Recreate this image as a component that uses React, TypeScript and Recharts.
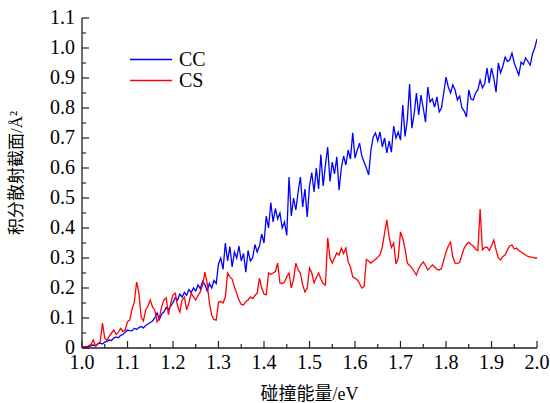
import { LineChart, Line, XAxis, YAxis, Legend } from "recharts";

// collision energy (eV)
const energy = [
  1.0, 1.005, 1.01, 1.015, 1.02, 1.025, 1.03, 1.035, 1.04, 1.045,
  1.05, 1.055, 1.06, 1.065, 1.07, 1.075, 1.08, 1.085, 1.09, 1.095,
  1.1, 1.105, 1.11, 1.115, 1.12, 1.125, 1.13, 1.135, 1.14, 1.145,
  1.15, 1.155, 1.16, 1.165, 1.17, 1.175, 1.18, 1.185, 1.19, 1.195,
  1.2, 1.205, 1.21, 1.215, 1.22, 1.225, 1.23, 1.235, 1.24, 1.245,
  1.25, 1.255, 1.26, 1.265, 1.27, 1.275, 1.28, 1.285, 1.29, 1.295,
  1.3, 1.305, 1.31, 1.315, 1.32, 1.325, 1.33, 1.335, 1.34, 1.345,
  1.35, 1.355, 1.36, 1.365, 1.37, 1.375, 1.38, 1.385, 1.39, 1.395,
  1.4, 1.405, 1.41, 1.415, 1.42, 1.425, 1.43, 1.435, 1.44, 1.445,
  1.45, 1.455, 1.46, 1.465, 1.47, 1.475, 1.48, 1.485, 1.49, 1.495,
  1.5, 1.505, 1.51, 1.515, 1.52, 1.525, 1.53, 1.535, 1.54, 1.545,
  1.55, 1.555, 1.56, 1.565, 1.57, 1.575, 1.58, 1.585, 1.59, 1.595,
  1.6, 1.605, 1.61, 1.615, 1.62, 1.625, 1.63, 1.635, 1.64, 1.645,
  1.65, 1.655, 1.66, 1.665, 1.67, 1.675, 1.68, 1.685, 1.69, 1.695,
  1.7, 1.705, 1.71, 1.715, 1.72, 1.725, 1.73, 1.735, 1.74, 1.745,
  1.75, 1.755, 1.76, 1.765, 1.77, 1.775, 1.78, 1.785, 1.79, 1.795,
  1.8, 1.805, 1.81, 1.815, 1.82, 1.825, 1.83, 1.835, 1.84, 1.845,
  1.85, 1.855, 1.86, 1.865, 1.87, 1.875, 1.88, 1.885, 1.89, 1.895,
  1.9, 1.905, 1.91, 1.915, 1.92, 1.925, 1.93, 1.935, 1.94, 1.945,
  1.95, 1.955, 1.96, 1.965, 1.97, 1.975, 1.98, 1.985, 1.99, 1.995,
  2.0,
];

// integral cross section, CC (Å²)
const ccValues = [
  0.0, 0.003, 0.005, 0.004, 0.008, 0.01, 0.008, 0.014, 0.016, 0.013,
  0.02, 0.022, 0.027, 0.025, 0.033, 0.037, 0.034, 0.042, 0.045, 0.052,
  0.06, 0.058, 0.057, 0.066, 0.062, 0.068, 0.072, 0.067, 0.075, 0.08,
  0.085, 0.09, 0.1, 0.117, 0.095, 0.112, 0.12, 0.135, 0.128, 0.14,
  0.152, 0.168, 0.16, 0.18, 0.17, 0.185, 0.176, 0.195, 0.185, 0.2,
  0.19, 0.21, 0.198, 0.222, 0.212, 0.19, 0.215, 0.2, 0.225, 0.215,
  0.28, 0.3, 0.262, 0.35, 0.29, 0.338, 0.27, 0.32, 0.3, 0.34,
  0.29, 0.315, 0.253, 0.325, 0.29, 0.3, 0.345, 0.32, 0.34, 0.38,
  0.35, 0.44, 0.4, 0.485, 0.42, 0.465, 0.43, 0.45, 0.4, 0.42,
  0.375, 0.57, 0.44, 0.5, 0.46, 0.52, 0.57, 0.47, 0.53, 0.437,
  0.54, 0.585, 0.52, 0.6, 0.53, 0.645, 0.54, 0.61, 0.67, 0.555,
  0.62, 0.58, 0.637, 0.527, 0.6, 0.64, 0.61, 0.66, 0.63, 0.717,
  0.633, 0.66, 0.683, 0.64, 0.62, 0.6, 0.577, 0.66, 0.703, 0.717,
  0.69, 0.72, 0.67, 0.7, 0.65, 0.69, 0.653, 0.74, 0.7, 0.72,
  0.693, 0.81, 0.705, 0.76, 0.88, 0.733, 0.78, 0.85, 0.777, 0.843,
  0.8, 0.753, 0.87, 0.82, 0.83, 0.803, 0.837, 0.787, 0.8, 0.85,
  0.903, 0.87, 0.85, 0.877, 0.86, 0.827, 0.84, 0.8, 0.79, 0.77,
  0.86, 0.83, 0.827, 0.85, 0.86, 0.893, 0.867, 0.88, 0.933, 0.883,
  0.933, 0.9, 0.853, 0.95, 0.917, 0.94, 0.97, 0.955, 0.96, 0.983,
  0.95, 0.93, 0.91, 0.953, 0.945, 0.967, 0.955, 0.943, 0.98, 1.0,
  1.03,
];

// integral cross section, CS (Å²)
const csValues = [
  0.0, 0.005, 0.002, 0.008, 0.012, 0.027, 0.005, 0.015, 0.02, 0.083,
  0.033, 0.025, 0.04, 0.05, 0.06, 0.045, 0.053, 0.065, 0.055, 0.06,
  0.088, 0.093, 0.13, 0.153, 0.22, 0.185, 0.103, 0.09, 0.127, 0.14,
  0.16, 0.137, 0.127, 0.087, 0.1, 0.137, 0.16, 0.167, 0.11, 0.15,
  0.177, 0.183, 0.14, 0.12, 0.16, 0.17, 0.127, 0.15, 0.183, 0.17,
  0.16, 0.175, 0.187, 0.21, 0.253, 0.217, 0.15, 0.11, 0.095, 0.093,
  0.153, 0.155, 0.15, 0.17, 0.25, 0.237, 0.23, 0.203, 0.183, 0.16,
  0.145, 0.143, 0.155, 0.16, 0.17, 0.165, 0.175, 0.183, 0.233, 0.2,
  0.18, 0.177, 0.25, 0.245, 0.25, 0.255, 0.283, 0.217, 0.215, 0.22,
  0.237, 0.25, 0.2, 0.23, 0.283, 0.26, 0.25, 0.21, 0.187, 0.2,
  0.267, 0.25, 0.217, 0.235, 0.25, 0.23, 0.215, 0.21, 0.367, 0.3,
  0.283, 0.3, 0.317, 0.31, 0.333, 0.315, 0.333, 0.287, 0.27, 0.237,
  0.233, 0.227, 0.215, 0.2, 0.205, 0.295, 0.29, 0.283, 0.29, 0.295,
  0.303, 0.31, 0.337, 0.383, 0.427, 0.37, 0.335, 0.35, 0.28, 0.3,
  0.387, 0.365, 0.33, 0.283, 0.275, 0.267, 0.255, 0.243, 0.265, 0.277,
  0.287, 0.275, 0.26, 0.268, 0.277, 0.27, 0.262, 0.26, 0.265, 0.293,
  0.32, 0.34, 0.353, 0.303, 0.283, 0.282, 0.285, 0.31, 0.333, 0.345,
  0.353, 0.345, 0.34, 0.33, 0.325, 0.463, 0.327, 0.335, 0.337, 0.325,
  0.34, 0.36, 0.327, 0.3, 0.293, 0.305, 0.31, 0.327, 0.34, 0.343,
  0.33, 0.333, 0.325, 0.32, 0.315, 0.31, 0.305, 0.303, 0.303, 0.3,
  0.3,
];

const xTicks = [1.0, 1.05, 1.1, 1.15, 1.2, 1.25, 1.3, 1.35, 1.4, 1.45, 1.5, 1.55, 1.6, 1.65, 1.7, 1.75, 1.8, 1.85, 1.9, 1.95, 2.0];
const xLabelTicks = [1.0, 1.1, 1.2, 1.3, 1.4, 1.5, 1.6, 1.7, 1.8, 1.9, 2.0];
const yTicks = [0, 0.05, 0.1, 0.15, 0.2, 0.25, 0.3, 0.35, 0.4, 0.45, 0.5, 0.55, 0.6, 0.65, 0.7, 0.75, 0.8, 0.85, 0.9, 0.95, 1.0, 1.05, 1.1];
const yLabelTicks = [0, 0.1, 0.2, 0.3, 0.4, 0.5, 0.6, 0.7, 0.8, 0.9, 1.0, 1.1];

const chartData = energy.map((e, i) => ({ energy: e, cc: ccValues[i], cs: csValues[i] }));

const FONT = '"Liberation Serif", "Noto Sans CJK SC", serif';
const AXIS_COLOR = "#222";
const isMajor = (v: number, list: number[]) => list.some((t) => Math.abs(t - v) < 1e-6);

const BottomTick = ({ x, y, payload }: any) => {
  const major = isMajor(payload.value, xLabelTicks);
  return (
    <g>
      <line x1={x} x2={x} y1={y} y2={y - (major ? 7 : 4)} stroke={AXIS_COLOR} strokeWidth={1.2} />
      {major && (
        <text x={x} y={y + 21} textAnchor="middle" fontSize={20} fontFamily={FONT} fill="#000">
          {payload.value.toFixed(1)}
        </text>
      )}
    </g>
  );
};

const TopTick = ({ x, y, payload }: any) => {
  const major = isMajor(payload.value, xLabelTicks);
  return <line x1={x} x2={x} y1={y} y2={y + (major ? 7 : 4)} stroke={AXIS_COLOR} strokeWidth={1.2} />;
};

const LeftTick = ({ x, y, payload }: any) => {
  const major = isMajor(payload.value, yLabelTicks);
  return (
    <g>
      <line x1={x} x2={x + (major ? 7 : 4)} y1={y} y2={y} stroke={AXIS_COLOR} strokeWidth={1.2} />
      {major && (
        <text x={x - 7} y={y + 6} textAnchor="end" fontSize={20} fontFamily={FONT} fill="#000">
          {payload.value === 0 ? "0" : payload.value.toFixed(1)}
        </text>
      )}
    </g>
  );
};

const RightTick = ({ x, y, payload }: any) => {
  const major = isMajor(payload.value, yLabelTicks);
  return <line x1={x} x2={x - (major ? 7 : 4)} y1={y} y2={y} stroke={AXIS_COLOR} strokeWidth={1.2} />;
};

const renderLegend = ({ payload }: any) => (
  <div style={{ fontFamily: FONT, fontSize: 20, color: "#000" }}>
    {(payload || []).map((entry: any) => (
      <div key={entry.value} style={{ display: "flex", alignItems: "center", height: 21 }}>
        <svg width={42} height={21}>
          <line x1={0} x2={42} y1={10.5} y2={10.5} stroke={entry.color} strokeWidth={1.3} />
        </svg>
        <span style={{ marginLeft: 7, lineHeight: "21px" }}>{entry.value}</span>
      </div>
    ))}
  </div>
);

const XTitle = ({ viewBox }: any) => (
  <text
    x={viewBox.x + viewBox.width / 2}
    y={viewBox.y + 52}
    textAnchor="middle"
    fontSize={18}
    fontFamily={FONT}
    fill="#000"
  >
    碰撞能量/eV
  </text>
);

const YTitle = ({ viewBox }: any) => {
  const cx = viewBox.x - 10;
  const cy = viewBox.y + viewBox.height / 2 - 10;
  return (
    <text
      x={cx}
      y={cy}
      transform={`rotate(-90, ${cx}, ${cy})`}
      textAnchor="middle"
      fontSize={17}
      fontFamily={FONT}
      fill="#000"
    >
      积分散射截面/Å²
    </text>
  );
};

export default function App() {
  return (
    <div style={{ width: 550, height: 403, background: "#fff" }}>
      <style>{`body { margin: 0; }`}</style>
      <LineChart
        width={550}
        height={403}
        data={chartData}
        margin={{ top: 18, right: 13, bottom: 0, left: 32 }}
      >
        <XAxis
          dataKey="energy"
          type="number"
          domain={[1, 2]}
          allowDataOverflow
          ticks={xTicks}
          interval={0}
          tickSize={0}
          tickMargin={0}
          height={55}
          axisLine={{ stroke: AXIS_COLOR, strokeWidth: 1.3 }}
          tickLine={false}
          tick={<BottomTick />}
          label={<XTitle />}
        />
        <XAxis
          xAxisId="top"
          orientation="top"
          dataKey="energy"
          type="number"
          domain={[1, 2]}
          allowDataOverflow
          ticks={xTicks}
          interval={0}
          tickSize={0}
          tickMargin={0}
          height={0}
          axisLine={{ stroke: AXIS_COLOR, strokeWidth: 1.3 }}
          tickLine={false}
          tick={<TopTick />}
        />
        <YAxis
          type="number"
          domain={[0, 1.1]}
          allowDataOverflow
          ticks={yTicks}
          interval={0}
          tickSize={0}
          tickMargin={0}
          width={50}
          axisLine={{ stroke: AXIS_COLOR, strokeWidth: 1.3 }}
          tickLine={false}
          tick={<LeftTick />}
          label={<YTitle />}
        />
        <YAxis
          yAxisId="right"
          orientation="right"
          type="number"
          domain={[0, 1.1]}
          allowDataOverflow
          ticks={yTicks}
          interval={0}
          tickSize={0}
          tickMargin={0}
          width={0}
          axisLine={{ stroke: AXIS_COLOR, strokeWidth: 1.3 }}
          tickLine={false}
          tick={<RightTick />}
        />
        <Legend
          layout="horizontal"
          verticalAlign="middle"
          align="center"
          content={renderLegend}
          wrapperStyle={{ top: 49, left: 130, width: "auto" }}
        />
        <Line
          type="linear"
          dataKey="cc"
          name="CC"
          stroke="#0000ff"
          strokeWidth={1.3}
          dot={false}
          isAnimationActive={false}
        />
        <Line
          type="linear"
          dataKey="cs"
          name="CS"
          stroke="#ff0000"
          strokeWidth={1.3}
          dot={false}
          isAnimationActive={false}
        />
      </LineChart>
    </div>
  );
}
